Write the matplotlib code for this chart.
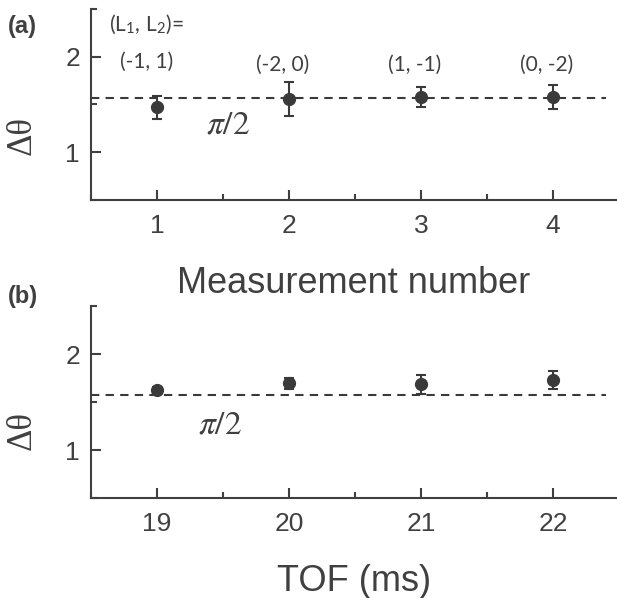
import numpy as np
import matplotlib
matplotlib.use('Agg')
import matplotlib.pyplot as plt
from matplotlib.ticker import MultipleLocator

# data
meas_num = [1, 2, 3, 4]
meas_dtheta = [1.47, 1.56, 1.58, 1.575]
meas_err = [0.12, 0.18, 0.105, 0.125]
meas_labels = ['(-1, 1)', '(-2, 0)', '(1, -1)', '(0, -2)']

tof_ms = [19, 20, 21, 22]
tof_dtheta = [1.625, 1.695, 1.685, 1.73]
tof_err = [0.03, 0.06, 0.10, 0.09]

GREY = '#404040'
DOT = '#3a3a3a'

plt.rcParams['mathtext.fontset'] = 'stix'
plt.rcParams['font.family'] = ['Liberation Sans', 'DejaVu Sans']


def style_axis(ax, xlim):
    ax.set_xlim(*xlim)
    ax.set_ylim(0.5, 2.5)
    for s in ['top', 'right']:
        ax.spines[s].set_visible(False)
    for s in ['left', 'bottom']:
        ax.spines[s].set_color(GREY)
        ax.spines[s].set_linewidth(1.5)
    ax.set_yticks([1, 2])
    ax.yaxis.set_minor_locator(MultipleLocator(0.5))
    ax.xaxis.set_minor_locator(MultipleLocator(0.5))
    ax.tick_params(which='both', direction='in', color=GREY, width=1.5,
                   labelcolor=GREY, labelsize=19)
    ax.tick_params(which='major', length=7)
    ax.tick_params(which='minor', length=4)
    ax.tick_params(axis='x', pad=10)
    ax.tick_params(axis='y', pad=8)
    ax.axhline(np.pi / 2, xmin=0, xmax=0.98, color=DOT, lw=1.5,
               linestyle=(0, (4, 3)), zorder=1)
    ax.set_ylabel('\u0394\u03b8', family='Liberation Serif', fontsize=25,
                  color=GREY)


fig = plt.figure(figsize=(6.17, 5.98), dpi=100)
ax1 = fig.add_axes([0.1475, 0.6656, 0.8525, 0.3194])
ax2 = fig.add_axes([0.1475, 0.1672, 0.8525, 0.3211])

# (a) measurement number
style_axis(ax1, (0.5, 4.485))
ax1.set_xticks(meas_num)
ax1.errorbar(meas_num, meas_dtheta, yerr=meas_err, fmt='o', color=DOT,
             markersize=8.5, elinewidth=1.5, capsize=3.3, capthick=1.5,
             zorder=3)
for i, (x, lab) in enumerate(zip(meas_num, meas_labels)):
    y = 1.95 if i == 0 else 1.92
    dx = -0.08 if i == 0 else -0.05
    ax1.text(x + dx, y, lab, ha='center', va='center', fontsize=15,
             family='Lato', color=GREY)
ax1.text(0.917, 2.335, r'(L$_\mathregular{1}$, L$_\mathregular{2}$)=',
         ha='center', va='center', fontsize=15, family='Lato', color=GREY)
ax1.text(1.54, 1.28, r'$\pi/2$', ha='center', va='center', fontsize=24,
         color=GREY)
ax1.set_xlabel('Measurement number', fontsize=26, color=GREY, labelpad=20)
ax1.yaxis.set_label_coords(-0.1, 0.335)

# (b) time of flight
style_axis(ax2, (18.5, 22.485))
ax2.set_xticks(tof_ms)
ax2.errorbar(tof_ms, tof_dtheta, yerr=tof_err, fmt='o', color=DOT,
             markersize=8.5, elinewidth=1.5, capsize=3.3, capthick=1.5,
             zorder=3)
ax2.text(19.48, 1.26, r'$\pi/2$', ha='center', va='center', fontsize=24,
         color=GREY)
ax2.set_xlabel('TOF (ms)', fontsize=26, color=GREY, labelpad=20)
ax2.yaxis.set_label_coords(-0.1, 0.354)

fig.text(8 / 617, 1 - 26 / 598, '(a)', fontsize=17, fontweight='bold',
         color=GREY, va='center', ha='left')
fig.text(8 / 617, 1 - 297 / 598, '(b)', fontsize=17, fontweight='bold',
         color=GREY, va='center', ha='left')

fig.savefig('out.png', dpi=100)
